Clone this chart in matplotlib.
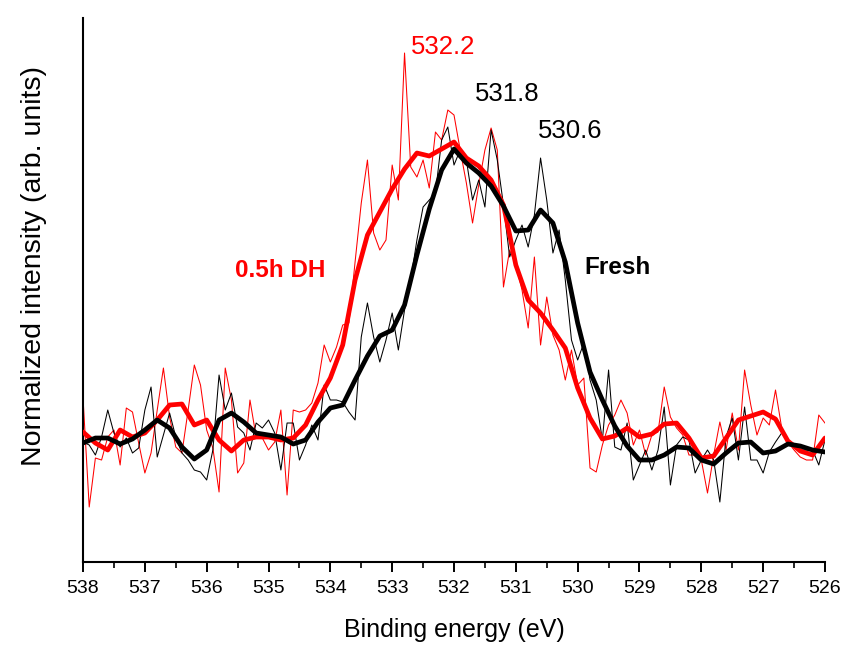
import numpy as np
import matplotlib
matplotlib.use("Agg")
import matplotlib.pyplot as plt
from matplotlib.ticker import MultipleLocator

plt.rcParams['font.family'] = ['Liberation Sans', 'DejaVu Sans']

# Binding energy grid of the raw spectra (eV) and of the smoothed curves
raw_start, raw_step, raw_n = 538.0, -0.1, 121
smooth_start, smooth_step, smooth_n = 538.0, -0.2, 61

# Raw spectra (arb. units)
dh_raw = [
    164, 55, 104, 102, 125, 132, 97, 154, 150, 119,
    89, 109, 152, 194, 145, 115, 109, 152, 197, 177,
    132, 114, 70, 194, 162, 89, 99, 162, 125, 124,
    112, 120, 152, 67, 152, 150, 152, 159, 179, 217,
    200, 215, 237, 239, 300, 359, 402, 329, 312, 322,
    397, 362, 509, 395, 385, 402, 374, 430, 422, 452,
    447, 412, 379, 339, 377, 412, 434, 412, 275, 312,
    297, 272, 234, 305, 217, 265, 227, 212, 182, 212,
    177, 184, 94, 90, 117, 137, 147, 162, 149, 117,
    132, 107, 127, 130, 175, 145, 134, 127, 107, 107,
    102, 69, 107, 140, 112, 149, 112, 192, 157, 127,
    144, 137, 172, 134, 120, 112, 105, 102, 102, 147, 139,
]
fresh_raw = [
    120, 117, 107, 125, 152, 129, 115, 124, 109, 114,
    152, 175, 105, 127, 149, 125, 109, 102, 92, 90,
    82, 112, 187, 152, 169, 135, 129, 112, 139, 134,
    142, 129, 92, 139, 139, 102, 117, 137, 122, 177,
    162, 162, 160, 150, 142, 225, 259, 225, 200, 222,
    249, 212, 252, 282, 322, 355, 362, 369, 422, 435,
    397, 412, 402, 362, 382, 355, 432, 402, 357, 305,
    322, 337, 315, 347, 404, 362, 309, 332, 282, 222,
    202, 219, 182, 162, 122, 192, 115, 112, 139, 82,
    97, 112, 92, 112, 155, 77, 117, 125, 122, 89,
    102, 112, 102, 60, 125, 144, 102, 155, 102, 102,
    89, 110, 120, 129, 122, 117, 112, 112, 112, 97, 122,
]

# Smoothed spectra (arb. units)
dh_smooth = [
    130, 119, 112, 132, 125, 129, 142, 157, 158, 137,
    142, 122, 111, 122, 125, 125, 122, 124, 137, 162,
    184, 217, 282, 327, 350, 373, 393, 409, 406, 413,
    420, 404, 396, 382, 357, 297, 262, 249, 232, 214,
    174, 144, 123, 126, 134, 125, 128, 138, 139, 124,
    104, 106, 124, 142, 146, 150, 143, 121, 111, 107, 124,
]
fresh_smooth = [
    119, 124, 124, 118, 123, 132, 142, 134, 115, 103,
    112, 142, 149, 140, 129, 127, 125, 118, 122, 140,
    154, 157, 182, 206, 226, 232, 257, 307, 353, 392,
    413, 399, 389, 376, 356, 331, 332, 352, 339, 300,
    239, 190, 162, 136, 116, 102, 102, 107, 115, 114,
    102, 98, 109, 119, 120, 109, 111, 118, 116, 112, 110,
]

peak_labels = ["532.2", "531.8", "530.6"]
series_labels = ["0.5h DH", "Fresh"]

e_raw = raw_start + raw_step * np.arange(raw_n)
e_smooth = smooth_start + smooth_step * np.arange(smooth_n)

fig = plt.figure(figsize=(8.49, 6.48), dpi=100)
ax = fig.add_axes([0.0978, 0.1327, 0.8739, 0.8395])

red = '#ff0000'
ax.plot(e_raw, dh_raw, color=red, lw=0.75, zorder=2)
ax.plot(e_raw, fresh_raw, color='black', lw=0.75, zorder=2)
ax.plot(e_smooth, dh_smooth, color=red, lw=3.4, zorder=3,
        solid_joinstyle='round', solid_capstyle='round')
ax.plot(e_smooth, fresh_smooth, color='black', lw=3.4, zorder=4,
        solid_joinstyle='round', solid_capstyle='round')

ax.set_xlim(538, 526)
ax.set_ylim(0, 544)

ax.spines['top'].set_visible(False)
ax.spines['right'].set_visible(False)
ax.spines['left'].set_linewidth(1.5)
ax.spines['bottom'].set_linewidth(1.5)
ax.set_yticks([])
ax.xaxis.set_major_locator(MultipleLocator(1))
ax.xaxis.set_minor_locator(MultipleLocator(0.5))
ax.tick_params(axis='x', which='major', direction='out', length=7, width=1.4,
               labelsize=14, pad=6)
ax.tick_params(axis='x', which='minor', direction='out', length=4, width=1.2)

ax.set_xlabel("Binding energy (eV)", fontsize=18, labelpad=15)
ax.set_ylabel("Normalized intensity (arb. units)", fontsize=20.5)
ax.yaxis.set_label_coords(-0.048, 0.545)

ax.text(532.18, 515, peak_labels[0], color=red, fontsize=18.5, ha='center', va='center')
ax.text(531.14, 468, peak_labels[1], color='black', fontsize=18.5, ha='center', va='center')
ax.text(530.12, 431, peak_labels[2], color='black', fontsize=18.5, ha='center', va='center')
ax.text(534.81, 292, series_labels[0], color=red, fontsize=17.5, fontweight='bold',
        ha='center', va='center')
ax.text(529.35, 295, series_labels[1], color='black', fontsize=17.5, fontweight='bold',
        ha='center', va='center')

fig.savefig("out.png", dpi=100)
